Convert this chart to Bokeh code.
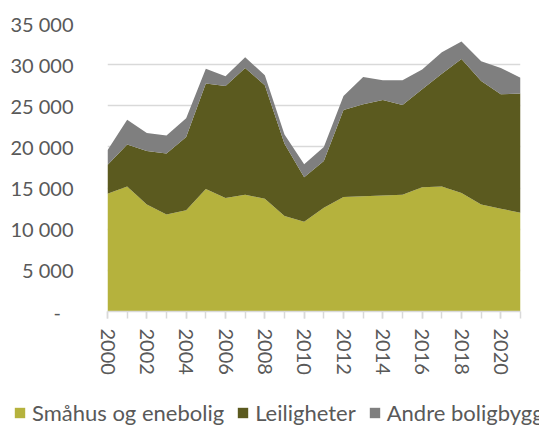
from bokeh.plotting import figure
from bokeh.layouts import column, row
from bokeh.models import ColumnDataSource, Range1d, FixedTicker, Legend, LegendItem
from bokeh.embed import file_html
from bokeh.resources import INLINE

years = list(range(2000, 2022))
smahus = [14300, 15200, 13000, 11800, 12300, 14900, 13800, 14200, 13700, 11600, 10900,
          12600, 13900, 14000, 14100, 14200, 15100, 15200, 14400, 13000, 12500, 12000]
leiligheter = [3500, 5100, 6500, 7400, 8900, 12800, 13600, 15400, 13800, 8800, 5400,
               5700, 10600, 11200, 11600, 10900, 11900, 13700, 16300, 15000, 13900, 14500]
andre = [1800, 3000, 2200, 2200, 2300, 1800, 1200, 1300, 1200, 1100, 1600,
         1700, 1700, 3300, 2400, 3000, 2400, 2600, 2100, 2400, 3200, 1900]
series_names = ["Småhus og enebolig", "Leiligheter", "Andre boligbygg"]
y_ticks = [0, 5000, 10000, 15000, 20000, 25000, 30000, 35000]
y_labels = ["-\u2002\u2009", "5 000", "10 000", "15 000", "20 000", "25 000", "30 000", "35 000"]
x_label_years = [y for y in years if y % 2 == 0]

colors = ["#B5B23D", "#5B5A1F", "#7F7F7F"]
text_color = "#595959"
FONT = "Lato"

source = ColumnDataSource(dict(year=years, s=smahus, l=leiligheter, a=andre))

W = 539
H_MAIN = 397
H_LEG = 30

p = figure(width=W, height=H_MAIN, output_backend="svg", toolbar_location=None,
           x_range=Range1d(years[0], years[-1]), y_range=Range1d(0, 35000),
           min_border_left=107, min_border_right=19, min_border_top=23,
           min_border_bottom=H_MAIN - 311)
p.outline_line_color = None
p.background_fill_color = "white"
p.border_fill_color = "white"

p.varea_stack(stackers=["s", "l", "a"], x="year", color=colors, source=source)

# y axis
p.yaxis.ticker = FixedTicker(ticks=y_ticks)
p.yaxis.major_label_overrides = {t: l for t, l in zip(y_ticks, y_labels)}
p.yaxis.axis_line_color = None
p.yaxis.major_tick_line_color = None
p.yaxis.minor_tick_line_color = None
p.yaxis.major_label_standoff = 28
p.yaxis.major_label_text_font = FONT
p.yaxis.major_label_text_font_size = "20px"
p.yaxis.major_label_text_color = text_color

p.ygrid.ticker = FixedTicker(ticks=y_ticks)
p.ygrid.grid_line_color = "#D9D9D9"
p.ygrid.grid_line_width = 1.5
p.xgrid.grid_line_color = None

# x axis
p.xaxis.ticker = FixedTicker(ticks=x_label_years, minor_ticks=years)
p.xaxis.axis_line_color = "#D9D9D9"
p.xaxis.axis_line_width = 1.5
p.xaxis.major_tick_line_color = "#D9D9D9"
p.xaxis.minor_tick_line_color = "#D9D9D9"
p.xaxis.major_tick_line_width = 1.5
p.xaxis.minor_tick_line_width = 1.5
p.xaxis.major_tick_in = 0
p.xaxis.major_tick_out = 7
p.xaxis.minor_tick_in = 0
p.xaxis.minor_tick_out = 7
p.xaxis.major_label_orientation = "vertical"
p.xaxis.major_label_standoff = 10
p.xaxis.major_label_text_font = FONT
p.xaxis.major_label_text_font_size = "20px"
p.xaxis.major_label_text_color = text_color

# legend strip (separate figure so the legend can extend left of the plot frame)
p2 = figure(width=W, height=H_LEG, output_backend="svg", toolbar_location=None,
            x_axis_type=None, y_axis_type=None, x_range=Range1d(0, 1), y_range=Range1d(0, 1),
            min_border=0, min_border_left=0, min_border_right=0, min_border_top=0, min_border_bottom=0)
p2.outline_line_color = None
p2.grid.visible = False
leg_renderers = p2.varea_stack(stackers=["s", "l", "a"], x="year", color=colors, source=source)
for r in leg_renderers:
    r.visible = False

lg = Legend(items=[LegendItem(label=n, renderers=[r]) for n, r in zip(series_names, leg_renderers)])
lg.orientation = "horizontal"
lg.location = (13, 1)
lg.padding = 0
lg.margin = 0
lg.spacing = 12
lg.label_standoff = 6
lg.glyph_width = 13
lg.glyph_height = 13
lg.border_line_color = None
lg.background_fill_alpha = 0
lg.label_text_font = FONT
lg.label_text_font_size = "22px"
lg.label_text_color = text_color
p2.add_layout(lg, "center")

layout = column(p, row(p2, spacing=0), spacing=0)
open("out.html", "w").write(file_html(layout, INLINE))
